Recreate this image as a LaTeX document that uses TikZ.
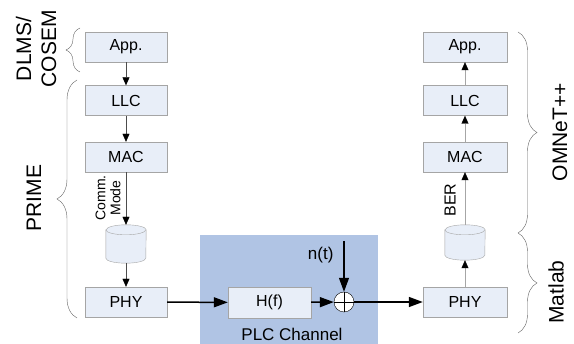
\documentclass[tikz,border=0pt]{standalone}
\usepackage{fontspec}
\setmainfont{Liberation Sans}
\usetikzlibrary{arrows.meta,decorations.pathreplacing}
\definecolor{boxfill}{RGB}{232,238,248}
\definecolor{boxline}{RGB}{165,165,165}
\definecolor{chanfill}{RGB}{176,196,228}
\definecolor{bracegray}{RGB}{100,100,100}
% drum outline round an empty node
\newcommand{\drum}[1]{%
  \path[draw=boxline, fill=boxfill] ([yshift=-5pt]#1.north west) -- ([yshift=5pt]#1.south west)
    arc[start angle=180, end angle=360, x radius=20pt, y radius=5pt] -- ([yshift=-5pt]#1.north east)
    arc[start angle=0, end angle=180, x radius=20pt, y radius=5pt] -- cycle;
  \draw[boxline] ([yshift=-5pt]#1.north west) arc[start angle=180, end angle=360, x radius=20pt, y radius=5pt];}
\begin{document}
\begin{tikzpicture}[x=1pt,y=1pt,
  layer/.style={draw=boxline, fill=boxfill, minimum width=82pt, minimum height=30pt, inner sep=0pt, font=\fontsize{16}{19}\selectfont},
  store/.style={minimum width=40pt, minimum height=38pt, inner sep=0pt},
  small/.style={-{Triangle[length=8pt,width=7pt,color=black]}},
  bold/.style={-{Triangle[length=14pt,width=10pt]}, line width=1.5pt},
  big/.style={font=\fontsize{21}{25}\selectfont, rotate=90, align=center},
  curly/.style={decorate, decoration={brace, amplitude=14pt}, draw=bracegray}
]
  \useasboundingbox (0,0) rectangle (574,-344);
  % channel area
  \fill[chanfill] (200,-235) rectangle (378,-344);
  \node[font=\fontsize{17}{20}\selectfont] (chan) at (292,-334) {PLC Channel};

  % sender stack
  \node[layer] (appL) at (126,-47) {App.};
  \node[layer] (llcL) at (126,-100.5) {LLC};
  \node[layer] (macL) at (126,-157) {MAC};
  \node[store] (cylL) at (126,-244) {};
  \drum{cylL}
  \node[layer] (phyL) at (126,-302) {PHY};

  % receiver stack
  \node[layer, minimum width=84pt] (appR) at (465,-47) {App.};
  \node[layer, minimum width=84pt] (llcR) at (465,-100.5) {LLC};
  \node[layer, minimum width=84pt] (macR) at (465,-157) {MAC};
  \node[store, minimum height=35pt] (cylR) at (465,-242.5) {};
  \drum{cylR}
  \node[layer, minimum width=84pt] (phyR) at (465,-302) {PHY};

  % channel
  \node[layer, minimum width=83pt, minimum height=31pt] (hf) at (269.5,-302.5) {H(f)};
  \node[circle, draw, fill=white, minimum size=20pt, inner sep=0pt,
        path picture={\draw (path picture bounding box.north) -- (path picture bounding box.south)
                            (path picture bounding box.west) -- (path picture bounding box.east);}] (sum) at (344,-302) {};
  \coordinate (noise) at (344,-241);
  \node[font=\fontsize{17}{20}\selectfont, anchor=east] (nt) at (337,-255) {n(t)};

  % connectors
  \draw[small, black!70] (appL) -- (llcL);
  \draw[small, black!70] (llcL) -- (macL);
  \draw[small, black!70] (macL) -- (cylL.north);
  \draw[small, black!70] (cylL.south) -- (phyL);
  \draw[small, black!35] (phyR) -- (cylR.south);
  \draw[small, black!35] (cylR.north) -- (macR);
  \draw[small, black!35] (macR) -- (llcR);
  \draw[small, black!35] (llcR) -- (appR);
  \draw[bold] (phyL) -- (hf);
  \draw[bold] (hf) -- (sum);
  \draw[bold] (sum) -- (phyR);
  \draw[bold, line width=1.2pt] (noise) -- (sum);

  \node[rotate=90, align=center, font=\fontsize{14}{15}\selectfont] (comm) at (108,-198) {Comm.\\Mode};
  \node[rotate=90, font=\fontsize{16}{18}\selectfont] (ber) at (450,-200) {BER};

  % braces and tool names
  \coordinate (dlmsA) at (80,-72);
  \coordinate (dlmsB) at (80,-28);
  \draw[curly] (dlmsA) -- (dlmsB);
  \coordinate (primeA) at (77,-318);
  \coordinate (primeB) at (77,-80);
  \draw[curly, decoration={amplitude=20pt}] (primeA) -- (primeB);
  \coordinate (omnA) at (518,-32);
  \coordinate (omnB) at (518,-233);
  \draw[curly, decoration={amplitude=19pt}] (omnA) -- (omnB);
  \coordinate (matA) at (518,-233);
  \coordinate (matB) at (518,-333);
  \draw[curly, decoration={amplitude=19pt}] (matA) -- (matB);

  \node[big] (dlms) at (36,-49) {DLMS/\\COSEM};
  \node[big] (prime) at (34,-198) {PRIME};
  \node[big] (omnet) at (560,-132) {OMNeT++};
  \node[big] (matlab) at (556,-292) {Matlab};
\end{tikzpicture}
\end{document}
